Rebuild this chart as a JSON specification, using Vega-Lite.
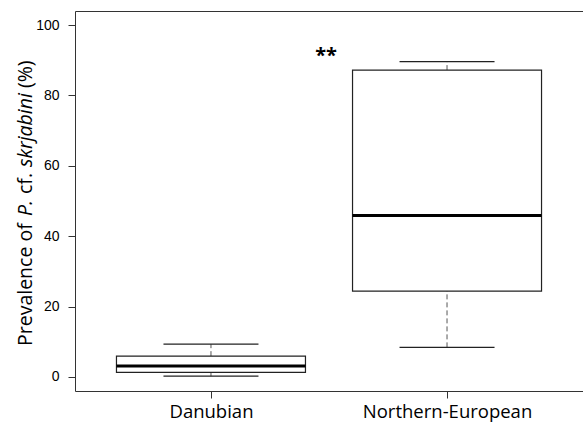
{
  "$schema": "https://vega.github.io/schema/vega-lite/v6.json",
  "width": 508,
  "height": 380,
  "autosize": {"type": "none"},
  "padding": {"left": 75, "top": 11, "right": 0, "bottom": 37},
  "view": {"stroke": "transparent"},
  "config": {"view": {"stroke": null}, "style": {"cell": {"stroke": "transparent", "strokeWidth": 0}}, "axis": {"grid": false}},
  "resolve": {"axis": {"x": "independent"}},
  "datasets": {
    "box": [
      {"group": "Danubian", "min": 0.2, "q1": 1.3, "median": 3.1, "q3": 5.9, "max": 9.3},
      {"group": "Northern-European", "min": 8.4, "q1": 24.4, "median": 45.9, "q3": 87.2, "max": 89.6}
    ]
  },
  "data": {"name": "box"},
  "layer": [
    {
      "mark": {"type": "rule", "strokeDash": [5, 3], "color": "#555", "strokeWidth": 1},
      "encoding": {
        "x": {
          "field": "group", "type": "nominal",
          "scale": {"type": "point", "padding": 0.576, "domain": ["Danubian", "Northern-European"]},
          "axis": {"orient": "bottom", "title": null, "labelAngle": 0, "labelFont": "Open Sans", "labelFontSize": 18.5, "labelColor": "#000", "tickSize": 7, "labelPadding": 4, "domainColor": "#333", "tickColor": "#333"}
        },
        "y": {
          "field": "min", "type": "quantitative",
          "scale": {"domain": [-4, 104], "nice": false, "zero": false},
          "axis": {"values": [0, 20, 40, 60, 80, 100], "title": null, "labelFont": "Liberation Sans", "labelFontSize": 14, "labelColor": "#000", "tickSize": 7, "labelPadding": 9, "domainColor": "#333", "tickColor": "#333"}
        },
        "y2": {"field": "q1"}
      }
    },
    {
      "mark": {"type": "rule", "strokeDash": [5, 3], "color": "#555", "strokeWidth": 1},
      "encoding": {
        "x": {"field": "group", "type": "nominal", "axis": {"orient": "top", "title": null, "labels": false, "ticks": false, "domainColor": "#333"}},
        "y": {"field": "q3", "type": "quantitative"},
        "y2": {"field": "max"}
      }
    },
    {
      "mark": {"type": "bar", "size": 189, "fill": "white", "stroke": "#222", "strokeWidth": 1.2},
      "encoding": {
        "x": {"field": "group", "type": "nominal", "axis": null},
        "y": {"field": "q1", "type": "quantitative"},
        "y2": {"field": "q3"}
      }
    },
    {
      "mark": {"type": "tick", "size": 95, "thickness": 1.2, "color": "#222", "opacity": 1},
      "encoding": {
        "x": {"field": "group", "type": "nominal", "axis": null},
        "y": {"field": "min", "type": "quantitative"}
      }
    },
    {
      "mark": {"type": "tick", "size": 95, "thickness": 1.2, "color": "#222", "opacity": 1},
      "encoding": {
        "x": {"field": "group", "type": "nominal", "axis": null},
        "y": {"field": "max", "type": "quantitative"}
      }
    },
    {
      "mark": {"type": "tick", "size": 189, "thickness": 3, "color": "#000", "opacity": 1},
      "encoding": {
        "x": {"field": "group", "type": "nominal", "axis": null},
        "y": {"field": "median", "type": "quantitative"}
      }
    },
    {
      "data": {"values": [{}]},
      "mark": {"type": "text", "text": "**", "font": "Open Sans", "fontWeight": "bold", "fontSize": 20, "align": "center", "baseline": "alphabetic", "dx": -121, "color": "#000"},
      "encoding": {"x": {"datum": "Northern-European", "axis": null}, "y": {"datum": 89.5}}
    },
    {
      "data": {"values": [{}]},
      "mark": {"type": "text", "text": "Prevalence of", "font": "Open Sans", "fontSize": 19.5, "angle": 270, "align": "left", "baseline": "alphabetic", "dx": -145, "dy": -179, "color": "#000"},
      "encoding": {"x": {"datum": "Danubian", "axis": null}, "y": {"datum": 50}}
    },
    {
      "data": {"values": [{}]},
      "mark": {"type": "text", "text": "P.", "font": "Open Sans", "fontStyle": "italic", "fontSize": 19.5, "angle": 270, "align": "left", "baseline": "alphabetic", "dx": -15, "dy": -179, "color": "#000"},
      "encoding": {"x": {"datum": "Danubian", "axis": null}, "y": {"datum": 50}}
    },
    {
      "data": {"values": [{}]},
      "mark": {"type": "text", "text": "cf.", "font": "Open Sans", "fontSize": 19.5, "angle": 270, "align": "left", "baseline": "alphabetic", "dx": 7, "dy": -179, "color": "#000"},
      "encoding": {"x": {"datum": "Danubian", "axis": null}, "y": {"datum": 50}}
    },
    {
      "data": {"values": [{}]},
      "mark": {"type": "text", "text": "skrjabini", "font": "Open Sans", "fontStyle": "italic", "fontSize": 19.5, "angle": 270, "align": "left", "baseline": "alphabetic", "dx": 34, "dy": -179, "color": "#000"},
      "encoding": {"x": {"datum": "Danubian", "axis": null}, "y": {"datum": 50}}
    },
    {
      "data": {"values": [{}]},
      "mark": {"type": "text", "text": "(%)", "font": "Open Sans", "fontSize": 19.5, "angle": 270, "align": "left", "baseline": "alphabetic", "dx": 113, "dy": -179, "color": "#000"},
      "encoding": {"x": {"datum": "Danubian", "axis": null}, "y": {"datum": 50}}
    }
  ]
}
